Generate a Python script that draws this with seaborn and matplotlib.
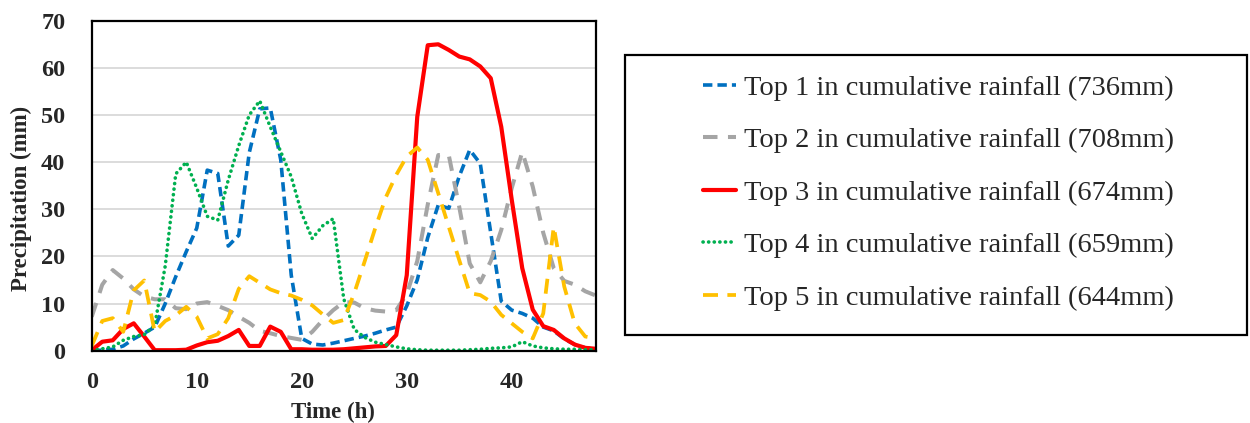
import matplotlib
matplotlib.use("Agg")
import matplotlib.pyplot as plt
from matplotlib.patches import Rectangle
import seaborn as sns

# hourly precipitation (mm) for the five storms with largest cumulative rainfall
hours = list(range(49))
top1 = [0.0, 0.1, 0.3, 1.0, 2.5, 3.7, 5.0, 10.0, 15.7, 21.0, 26.0, 38.3, 37.6, 22.2, 24.5, 42.0, 51.3,
        51.5, 40.5, 16.0, 2.6, 1.4, 1.2, 1.6, 2.1, 2.6, 3.1, 3.7, 4.4, 5.0, 9.5, 15.0, 24.0, 30.9,
        30.2, 37.0, 42.6, 39.7, 25.0, 10.5, 8.6, 7.9, 6.9, 5.0, 4.2, 2.5, 1.3, 0.6, 0.4]
top2 = [7.2, 14.0, 17.1, 15.3, 13.0, 11.5, 10.9, 10.9, 9.0, 8.8, 10.0, 10.3, 9.5, 8.6, 7.2, 5.9, 4.2,
        3.7, 3.1, 2.7, 2.3, 4.0, 6.5, 8.6, 10.3, 10.2, 9.0, 8.5, 8.3, 8.6, 12.0, 19.0, 31.0, 41.5,
        41.5, 30.5, 18.5, 14.5, 19.0, 25.6, 34.5, 42.2, 34.8, 25.0, 17.5, 14.8, 14.0, 12.6, 11.7]
top3 = [0.1, 1.9, 2.2, 4.6, 5.8, 3.0, 0.1, 0.1, 0.1, 0.2, 1.1, 1.8, 2.1, 3.1, 4.4, 1.0, 1.0,
        5.1, 4.0, 0.3, 0.3, 0.2, 0.2, 0.2, 0.3, 0.5, 0.7, 0.9, 1.0, 3.3, 16.0, 49.6, 64.8, 65.0,
        63.8, 62.4, 61.8, 60.3, 57.8, 47.5, 32.0, 17.5, 8.7, 5.2, 4.4, 2.6, 1.3, 0.6, 0.4]
top4 = [0.0, 0.4, 0.8, 2.2, 3.0, 3.4, 5.4, 18.0, 37.5, 40.0, 34.5, 28.5, 27.7, 36.2, 43.5, 50.0, 53.0,
        47.5, 42.2, 36.9, 29.1, 23.8, 26.5, 28.0, 11.0, 4.5, 2.8, 1.8, 1.3, 0.8, 0.4, 0.2, 0.1, 0.1,
        0.1, 0.1, 0.2, 0.3, 0.5, 0.6, 0.8, 1.9, 1.0, 0.6, 0.4, 0.3, 0.3, 0.2, 0.2]
top5 = [1.0, 6.3, 6.9, 4.0, 12.8, 14.9, 4.0, 6.3, 7.5, 9.3, 7.2, 2.6, 3.5, 6.9, 13.1, 15.8, 14.4,
        13.0, 12.2, 11.7, 10.8, 9.6, 7.7, 5.9, 6.5, 12.2, 19.0, 26.0, 32.5, 37.3, 41.2, 43.1, 40.5,
        33.4, 26.3, 19.2, 12.2, 11.8, 10.4, 7.6, 5.8, 4.0, 2.6, 7.9, 26.3, 13.6, 5.8, 3.0, 2.6]

labels = ["Top 1 in cumulative rainfall (736mm)",
          "Top 2 in cumulative rainfall (708mm)",
          "Top 3 in cumulative rainfall (674mm)",
          "Top 4 in cumulative rainfall (659mm)",
          "Top 5 in cumulative rainfall (644mm)"]
colors = ["#0070C0", "#A5A5A5", "#FF0000", "#00B050", "#FFC000"]
widths = [2.6, 2.9, 3.0, 2.6, 2.7]
dash_styles = [(2.6, 1.4), (3.6, 2.6), None, (0.05, 1.5), (4.0, 2.5)]

sns.set_style("white")
plt.rcParams['font.family'] = ['Liberation Serif', 'DejaVu Serif']

fig = plt.figure(figsize=(12.5, 4.23), dpi=100)
ax = fig.add_axes([0.0734, 0.171, 0.4032, 0.780])

series = [top1, top2, top3, top4, top5]
for vals, lab, col, lw, ds in zip(series, labels, colors, widths, dash_styles):
    sns.lineplot(x=hours, y=vals, ax=ax, color=col, linewidth=lw, label=lab)
    line = ax.get_lines()[-1]
    if ds is not None:
        line.set_dashes(ds)
        line.set_dash_capstyle('round' if ds[0] < 0.5 else 'butt')

ax.set_xlim(0, 48)
ax.set_ylim(0, 70)
ax.set_xticks([0, 10, 20, 30, 40])
ax.set_yticks(range(0, 71, 10))
ax.yaxis.grid(True, color="#D9D9D9", linewidth=1.3)
ax.xaxis.grid(False)
ax.set_axisbelow(True)
for sp in ax.spines.values():
    sp.set_color("black")
    sp.set_linewidth(1.6)
ax.tick_params(axis='both', length=0, labelsize=17.5)
ax.tick_params(axis='y', pad=19)
ax.tick_params(axis='x', pad=15)
for t in ax.get_xticklabels() + ax.get_yticklabels():
    t.set_fontweight('bold')
ax.set_xlabel("Time (h)", fontsize=16.5, fontweight='bold')
ax.set_ylabel("Precipitation (mm)", fontsize=16.5, fontweight='bold')
ax.xaxis.set_label_coords(0.479, -0.155)
ax.yaxis.set_label_coords(-0.118, 0.46)

leg = ax.legend(loc='upper left', bbox_to_anchor=(703 / 1250, 1 - 75 / 423),
                bbox_transform=fig.transFigure, frameon=False, fontsize=20.5,
                handlelength=1.15, handletextpad=0.3, labelspacing=0.93,
                borderpad=0, borderaxespad=0)
fig.patches.append(Rectangle((625 / 1250, 1 - 335 / 423), 622 / 1250, 280 / 423,
                             transform=fig.transFigure, fill=False,
                             edgecolor="black", linewidth=1.6))

fig.savefig("out.png", dpi=100, facecolor="white")
